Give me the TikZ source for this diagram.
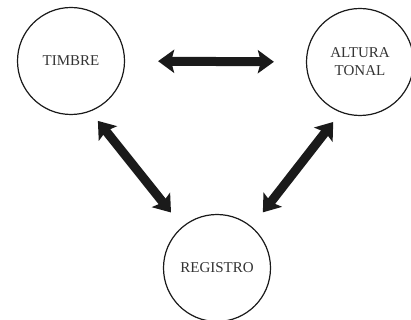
\documentclass[tikz,border=0pt]{standalone}
\usepackage{fontspec}
\setmainfont{Liberation Serif}
\usetikzlibrary{arrows.meta}
\definecolor{txt}{HTML}{333333}
\definecolor{ink}{HTML}{1A1A1A}
\begin{document}
\begin{tikzpicture}[x=1pt,y=-1pt,
  concept/.style={circle,draw=ink,line width=1.2pt,minimum size=107pt,inner sep=0pt,
    align=center,text=txt,font=\fontsize{15}{18}\selectfont},
  bigarrow/.style={ink,line width=9pt,{Stealth[length=16pt,width=23pt,inset=3pt]}-{Stealth[length=16pt,width=23pt,inset=3pt]}}
]
\useasboundingbox (0,0) rectangle (411,320);
\node[concept] (timbre) at (71,61) {TIMBRE};
\node[concept] (altura) at (360,62) {ALTURA\\TONAL};
\node[concept] (registro) at (217,268) {REGISTRO};
\draw[bigarrow,shorten <=33pt,shorten >=32pt] (timbre.east) -- (altura.west);
\draw[bigarrow,shorten <=12pt,shorten >=18pt] (timbre.-69) -- (registro.130);
\draw[bigarrow,shorten <=12pt,shorten >=18pt] (altura.-111) -- (registro.50);
\end{tikzpicture}
\end{document}
